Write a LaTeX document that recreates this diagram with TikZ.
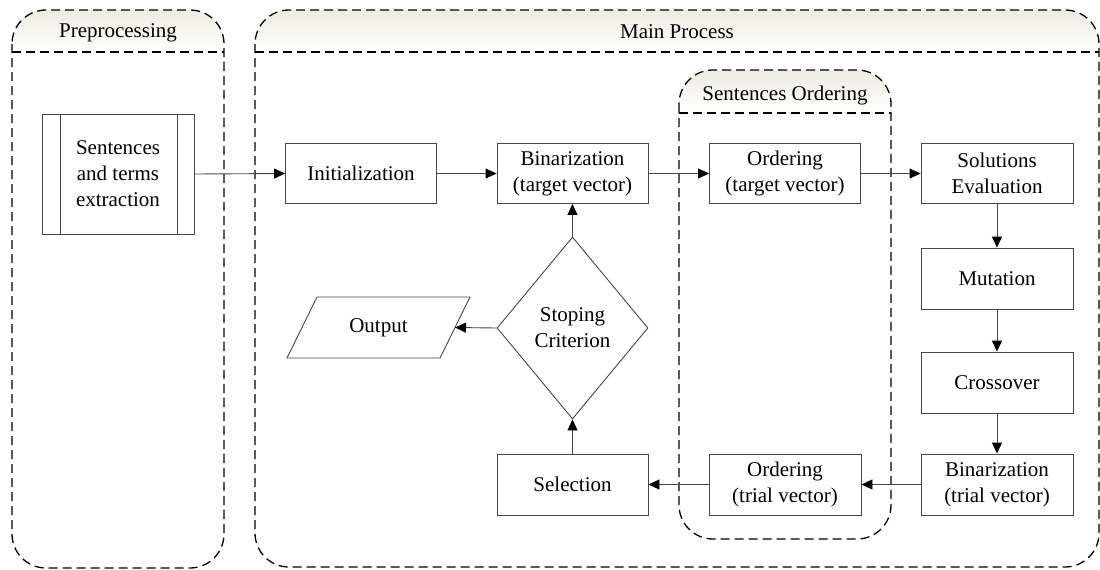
\documentclass[tikz,border=0pt]{standalone}
\usepackage{fontspec}
\setmainfont{Liberation Serif}
\usetikzlibrary{arrows.meta,shapes.geometric}
\definecolor{hdr}{RGB}{236,236,226}
\definecolor{edge}{RGB}{70,70,70}
\begin{document}
\begin{tikzpicture}[x=1pt,y=-1pt,
 every node/.style={font=\fontsize{21}{26}\selectfont},
 lane/.style={draw=black,line width=1.3pt,dash pattern=on 9pt off 5pt,rounded corners=34pt},
 sepline/.style={draw=black,line width=1.3pt,dash pattern=on 9pt off 5pt},
 proc/.style={draw=edge,line width=0.9pt,minimum width=151pt,minimum height=60pt,inner sep=0pt,align=center},
 flow/.style={draw=edge,line width=0.9pt,-{Triangle[length=11pt,width=10pt,color=black,fill=black]}}]
\useasboundingbox (0,0) rectangle (1100,570);

% lane headers (shading)
\begin{scope}
\clip[rounded corners=34pt] (12,10) rectangle (224,568);
\shade[top color=hdr,bottom color=white] (12,10) rectangle (224,52);
\end{scope}
\begin{scope}
\clip[rounded corners=34pt] (255,10) rectangle (1099,567);
\shade[top color=hdr,bottom color=white] (255,10) rectangle (1099,52);
\end{scope}
\begin{scope}
\clip[rounded corners=34pt] (679,70) rectangle (891,539);
\shade[top color=hdr,bottom color=white] (679,70) rectangle (891,113);
\end{scope}

% lanes
\draw[lane] (12,10) rectangle (224,568);
\draw[sepline] (12,52) -- (224,52);
\draw[lane] (255,10) rectangle (1099,567);
\draw[sepline] (255,52) -- (1099,52);
\draw[lane] (679,70) rectangle (891,539);
\draw[sepline] (679,113) -- (891,113);

\node (preT) at (118,33) {Preprocessing};
\node (mainT) at (677,32) {Main Process};
\node (soT) at (785,95) {Sentences Ordering};

% nodes
\node[proc,minimum width=152pt,minimum height=120pt] (sent) at (118,174) {Sentences\\and terms\\extraction};
\draw[draw=edge,line width=0.9pt] ([xshift=19pt]sent.north west) -- ([xshift=19pt]sent.south west);
\draw[draw=edge,line width=0.9pt] ([xshift=-17pt]sent.north east) -- ([xshift=-17pt]sent.south east);

\node[proc] (init) at (361,173.5) {Initialization};
\node[proc] (bint) at (572.5,173.5) {Binarization\\(target vector)};
\node[proc] (ordt) at (785,173.5) {Ordering\\(target vector)};
\node[proc,minimum width=152pt] (eval) at (997,173.5) {Solutions\\Evaluation};
\node[proc,minimum width=152pt,minimum height=61pt] (mut) at (997,278.5) {Mutation};
\node[proc,minimum width=152pt,minimum height=61pt] (cross) at (997,382.5) {Crossover};
\node[proc,minimum width=152pt,minimum height=61pt] (bintr) at (997,484.5) {Binarization\\(trial vector)};
\node[proc,minimum width=152pt,minimum height=61pt] (ordtr) at (785,484.5) {Ordering\\(trial vector)};
\node[proc,minimum height=61pt] (sel) at (572.5,484.5) {Selection};
\node[diamond,draw=edge,line width=0.9pt,minimum width=151pt,minimum height=182pt,inner sep=0pt,align=center] (stop) at (572.5,328) {Stoping\\Criterion};
\node (out) at (378.5,327.5) {Output};
\draw[draw=edge,line width=0.9pt] (317,297) -- (470,297) -- (440,358) -- (287,358) -- cycle;
\coordinate (outR) at (455,327.5);

% connectors
\draw[flow] (sent.east) -- (init.west);
\draw[flow] (init.east) -- (bint.west);
\draw[flow] (bint.east) -- (ordt.west);
\draw[flow] (ordt.east) -- (eval.west);
\draw[flow] (eval.south) -- (mut.north);
\draw[flow] (mut.south) -- (cross.north);
\draw[flow] (cross.south) -- (bintr.north);
\draw[flow] (bintr.west) -- (ordtr.east);
\draw[flow] (ordtr.west) -- (sel.east);
\draw[flow] (sel.north) -- (stop.south);
\draw[flow] (stop.north) -- (bint.south);
\draw[flow] (stop.west) -- (outR);
\end{tikzpicture}
\end{document}
